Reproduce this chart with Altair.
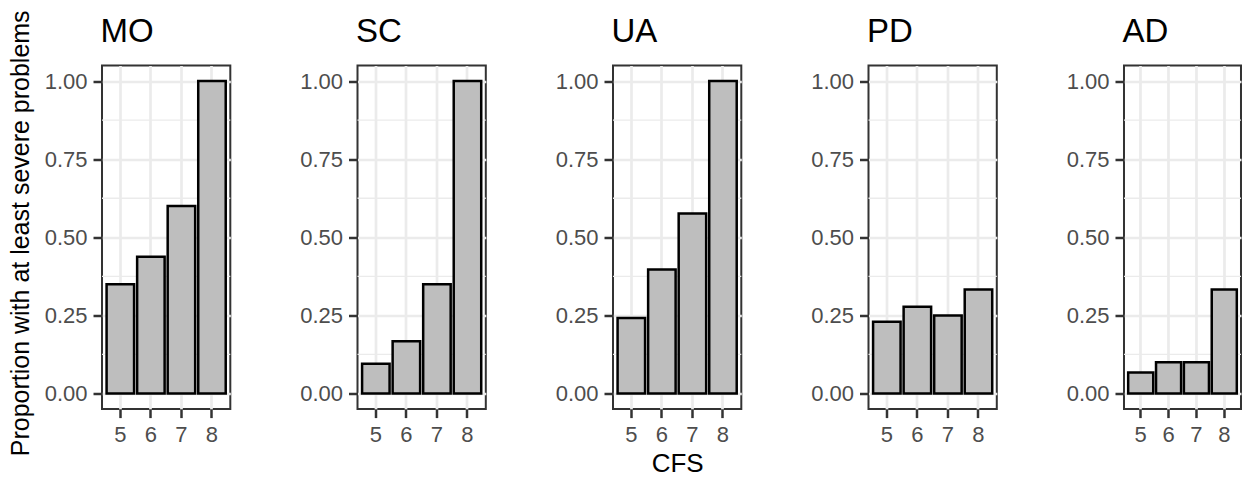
import altair as alt
import pandas as pd

groups = ["MO", "SC", "UA", "PD", "AD"]
cfs = [5, 6, 7, 8]
mo = [0.35, 0.4375, 0.60, 1.0]
sc = [0.095, 0.167, 0.35, 1.0]
ua = [0.242, 0.397, 0.576, 1.0]
pd_ = [0.23, 0.278, 0.25, 0.333]
ad = [0.067, 0.10, 0.10, 0.333]
values = {"MO": mo, "SC": sc, "UA": ua, "PD": pd_, "AD": ad}

y_title = ["Proportion with at least severe problems"]
x_title = "CFS"
major_ticks = [0, 0.25, 0.5, 0.75, 1.0]
minor_ticks = [0.125, 0.375, 0.625, 0.875]

FONT = "Liberation Sans"
W, H = 128.3, 343.6
W_LAST = 117  # last panel is cut by the right edge of the picture


def panel(g, first, last, xtitle):
    df = pd.DataFrame({"CFS": cfs, "p": values[g]})
    minor = pd.DataFrame({"p": minor_ticks})
    yaxis = alt.Axis(
        values=major_ticks, format=".2f", title=None,
        labelFont=FONT, labelFontSize=22, labelColor="#4D4D4D", labelPadding=6,
        tickSize=9, tickWidth=2.5, tickColor="#333333", domain=False,
        grid=True, gridColor="#EBEBEB", gridWidth=2.7,
    )
    yenc = alt.Y("p:Q", scale=alt.Scale(domain=[-0.05, 1.05], nice=False, zero=False), axis=yaxis)
    xaxis_kw = dict(
        labelAngle=0,
        labelFont=FONT, labelFontSize=22, labelColor="#4D4D4D", labelPadding=7,
        tickSize=8.5, tickWidth=2.5, tickColor="#333333", domain=False,
        grid=True, gridColor="#EBEBEB", gridWidth=2.7,
    )
    if xtitle:
        xaxis = alt.Axis(title=xtitle, titleFontSize=26, titleFont=FONT, titleFontWeight="normal",
                         titleColor="black", titlePadding=5, **xaxis_kw)
    else:
        xaxis = alt.Axis(title=None, **xaxis_kw)
    xscale = alt.Scale(paddingInner=0.1, paddingOuter=0.15)
    xenc = alt.X("CFS:O", scale=xscale, axis=xaxis)
    rules = alt.Chart(minor).mark_rule(color="#EBEBEB", strokeWidth=1.35).encode(y=yenc)
    bars = alt.Chart(df).mark_bar(color="#BEBEBE", stroke="black", strokeWidth=2.5).encode(x=xenc, y=yenc)
    title = alt.Chart(pd.DataFrame({"g": [g]})).mark_text(
        font=FONT, fontSize=33, color="black", align="left", baseline="alphabetic"
    ).encode(text="g:N", x=alt.value(-1.5), y=alt.value(-23))
    layers = [rules, bars, title]
    if first:
        ytxt = alt.Chart(pd.DataFrame({"t": y_title})).mark_text(
            font=FONT, fontSize=25, color="black", align="center", baseline="alphabetic", angle=270
        ).encode(text="t:N", x=alt.value(-72.7), y=alt.value(167.8))
        layers.append(ytxt)
    return alt.layer(*layers).properties(width=W_LAST if last else W, height=H)


charts = [panel(g, i == 0, i == len(groups) - 1, x_title if g == "UA" else "") for i, g in enumerate(groups)]
chart = (
    alt.hconcat(*charts, spacing=126.5, bounds="flush")
    .properties(padding={"left": 0, "top": 0.5, "right": 0, "bottom": -4}, background="white")
    .configure_view(stroke="#333333", strokeWidth=2)
)
chart.save("out.html", embed_options={"renderer": "svg", "actions": False})
